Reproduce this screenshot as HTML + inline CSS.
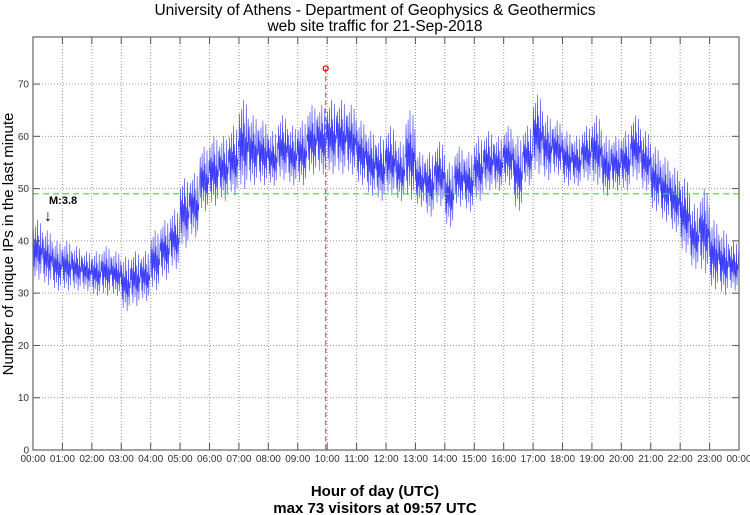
<!DOCTYPE html>
<html><head><meta charset="utf-8"><style>
body{margin:0;background:#fff;width:750px;height:515px;overflow:hidden}
svg{display:block;font-family:"Liberation Sans",sans-serif}
</style></head><body>
<svg id="chart" width="750" height="515">
<text x="375" y="15" text-anchor="middle" font-size="15.5">University of Athens - Department of Geophysics &amp; Geothermics</text>
<text x="375" y="31" text-anchor="middle" font-size="15.5">web site traffic for 21-Sep-2018</text>
<text x="375" y="496" text-anchor="middle" font-size="15" font-weight="bold">Hour of day (UTC)</text>
<text x="375" y="513" text-anchor="middle" font-size="15" font-weight="bold">max 73 visitors at 09:57 UTC</text>
<text transform="translate(13,244) rotate(-90)" text-anchor="middle" font-size="15">Number of unique IPs in the last minute</text>
<g id="grid"></g><g id="plot"></g><g id="axes"></g>
</svg>
<script>
const hours=["00:00","01:00","02:00","03:00","04:00","05:00","06:00","07:00","08:00","09:00","10:00","11:00","12:00","13:00","14:00","15:00","16:00","17:00","18:00","19:00","20:00","21:00","22:00","23:00","00:00"];
const yTicks=[0,10,20,30,40,50,60,70];
// 20-minute bins: low / high visitor counts
const binLow=[32,31,30,30,30,30,29,29,29,26,27,28,30,32,34,38,40,45,46,47,48,49,50,50,50,51,50,50,52,52,52,52,52,50,48,47,48,47,47,46,44,46,42,46,45,47,49,49,50,45,50,52,51,52,50,50,51,50,48,49,49,51,49,45,43,41,37,34,33,30,29,30];
const binHigh=[44,42,40,40,39,38,38,39,38,37,38,38,42,44,46,52,53,58,60,60,62,67,64,63,61,64,62,63,66,66,67,67,66,63,61,60,62,59,65,57,57,59,55,58,57,60,61,60,62,60,62,68,64,63,61,60,62,64,60,60,61,64,61,58,56,54,52,47,50,44,42,40];
const meanVal=49, maxVal=73, maxMin=597;
const pattern=[0.5,0.85,0.25,0.7,0.1,0.9,0.4,0.65,0.2,1,0.35,0.75,0.05,0.6,0.3,0.95,0.15,0.55,0.45,0.8];
const X0=33,X1=739,Y0=450,Y1=37,YMAX=79;
const sx=m=>X0+m/1440*(X1-X0), sy=v=>Y0-v/YMAX*(Y0-Y1);
const NS="http://www.w3.org/2000/svg";
function mk(p,t,a){const e=document.createElementNS(NS,t);for(const k in a)e.setAttribute(k,a[k]);p.appendChild(e);return e;}
const grid=document.getElementById('grid'),plot=document.getElementById('plot'),axes=document.getElementById('axes');
hours.forEach((h,i)=>{const x=sx(i*60);
 if(i>0&&i<24){const l=mk(grid,'line',{x1:x,x2:x,y1:Y1,y2:Y0,stroke:'#999','stroke-dasharray':'1,2'});
 
 }
 const t1=mk(axes,'line',{x1:x,x2:x,y1:Y0,y2:Y0-7,stroke:'#555'});
 
 
 const t2=mk(axes,'line',{x1:x,x2:x,y1:Y1,y2:Y1+7,stroke:'#555'});
 
 
 const tx=mk(axes,'text',{x:x,y:462,'text-anchor':'middle','font-size':'10',fill:'#333'});tx.textContent=h;
 
 
});
yTicks.forEach(v=>{const y=sy(v);
 if(v>0){const l=mk(grid,'line',{x1:X0,x2:X1,y1:y,y2:y,stroke:'#999','stroke-dasharray':'1,2'});
 
 }
 const t1=mk(axes,'line',{x1:X0,x2:X0+7,y1:y,y2:y,stroke:'#555'});
 
 
 const t2=mk(axes,'line',{x1:X1-7,x2:X1,y1:y,y2:y,stroke:'#555'});
 
 
 const tx=mk(axes,'text',{x:X0-4,y:y+3.5,'text-anchor':'end','font-size':'10',fill:'#333'});tx.textContent=v;
 
 
});
const box=mk(axes,'rect',{x:X0,y:Y1,width:X1-X0,height:Y0-Y1,fill:'none',stroke:'#666','stroke-width':'1.2'});


let pts=[];
for(let b=0;b<binLow.length;b++){for(let i=0;i<20;i++){const m=b*20+i;const v=binLow[b]+pattern[i]*(binHigh[b]-binLow[b]);pts.push(sx(m).toFixed(1)+','+sy(v).toFixed(1));}}
const line=mk(plot,'polyline',{points:pts.join(' '),fill:'none',stroke:'#1a1aff','stroke-width':'0.6','stroke-opacity':'0.85'});


const ml=mk(plot,'line',{x1:X0,x2:X1,y1:sy(meanVal),y2:sy(meanVal),stroke:'#33dd33','stroke-width':'1.2','stroke-dasharray':'6,4'});


const vl=mk(plot,'line',{x1:sx(maxMin),x2:sx(maxMin),y1:sy(maxVal),y2:Y0,stroke:'#a05050','stroke-width':'1','stroke-dasharray':'5,3'});


const mc=mk(plot,'circle',{cx:sx(maxMin),cy:sy(maxVal),r:2.5,fill:'none',stroke:'red','stroke-width':'1.3'});


const mt=mk(plot,'text',{x:49,y:204,'font-size':'11','font-weight':'bold'});mt.textContent='M:3.8';


const ar=mk(plot,'text',{x:44,y:221,'font-size':'16'});ar.textContent='↓';


</script>
</body></html>
